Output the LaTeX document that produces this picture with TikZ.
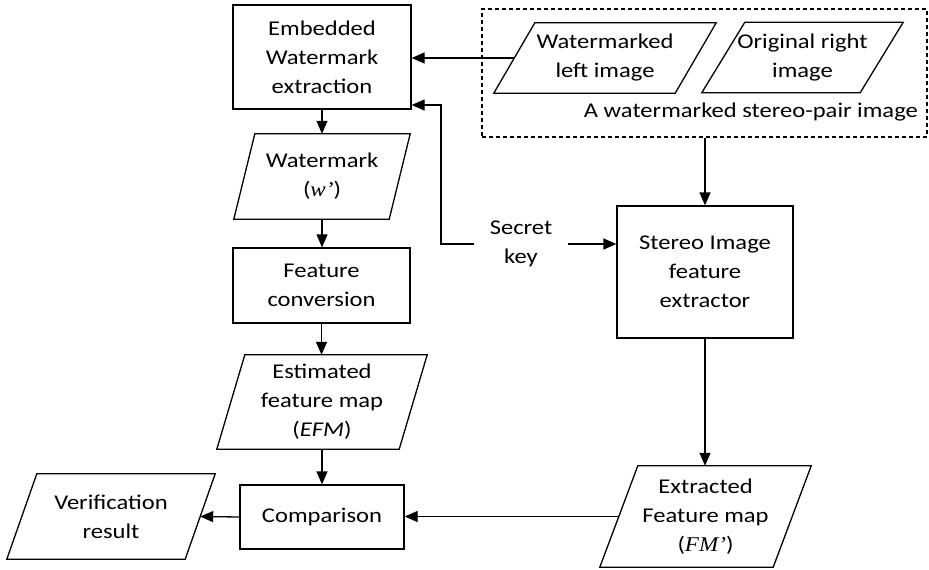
\documentclass[tikz,border=0pt]{standalone}
\usepackage{fontspec}
\setmainfont{Carlito}[FakeStretch=1.17]
\newfontfamily\serifit{Liberation Serif}[FakeStretch=1.1]
\usetikzlibrary{arrows.meta}
\newcommand\drawpara[2]{\draw[ln] ([xshift=#2]#1.north west) -- (#1.north east) -- ([xshift=-#2]#1.south east) -- (#1.south west) -- cycle;}
\begin{document}
\begin{tikzpicture}[x=1pt,y=-1pt,
  every node/.style={font=\fontsize{21}{29}\selectfont, align=center, inner sep=0pt, text=black},
  ln/.style={draw=black, line width=1.3pt},
  box/.style={ln},
  arr/.style={ln, -{Triangle[length=13pt,width=11pt]}},
  grp/.style={draw=black, line width=1.2pt, dash pattern=on 4pt off 3pt}]
\useasboundingbox (0,0) rectangle (929,570);
% left column
\node[box, minimum width=178pt, minimum height=104pt] (emb) at (322,57) {Embedded\\Watermark\\extraction};
\node[minimum width=176pt, minimum height=85pt] (wm) at (322,176.5) {Watermark\\({\serifit\itshape w’})};
\node[box, minimum width=177pt, minimum height=75pt] (fc) at (321.5,285.5) {Feature\\conversion};
\node[minimum width=210pt, minimum height=94pt] (efm) at (322,402) {Estimated\\feature map\\(\textit{EFM})};
\node[box, minimum width=164pt, minimum height=64pt] (cmp) at (322,517) {Comparison};
\node[minimum width=208pt, minimum height=85pt] (ver) at (111,516.5) {Verification\\result};
% right side
\node[grp, minimum width=445pt, minimum height=128pt] (grp) at (704.5,73) {};
\node[minimum width=222pt, minimum height=70pt] (li) at (605,58) {Watermarked\\left image};
\node[minimum width=201pt, minimum height=70pt] (ori) at (802.5,57.5) {Original right\\image};
\node[anchor=base east] (lbl) at (918,117) {A watermarked stereo-pair image};
\node[minimum width=93pt] (sk) at (521,244) {Secret\\key};
\node[box, minimum width=176pt, minimum height=132pt] (st) at (705,272) {Stereo Image\\feature\\extractor};
\node[minimum width=211pt, minimum height=101pt] (fm) at (705.5,516.5) {Extracted\\Feature map\\({\serifit\itshape FM’})};
% parallelograms
\drawpara{wm}{21}
\drawpara{efm}{28}
\drawpara{ver}{30}
\drawpara{li}{41}
\drawpara{ori}{43}
\drawpara{fm}{38}
% edge points of slanted sides
\coordinate (liw) at ([xshift=20.5pt]li.west);
\coordinate (fmw) at ([xshift=19pt]fm.west);
\coordinate (vere) at ([xshift=-15pt]ver.east);
\coordinate (kc) at (441,105);
% connectors
\draw[arr] (emb.south) -- (emb.south |- wm.north);
\draw[arr] (wm.south) -- (wm.south |- fc.north);
\draw[arr] (fc.south) -- (fc.south |- efm.north);
\draw[arr] (efm.south) -- (efm.south |- cmp.north);
\draw[arr] (liw) -- (liw -| emb.east);
\draw[arr] (sk.west) -| (kc) -- (kc -| emb.east);
\draw[arr] (sk.east) -- (sk.east -| st.west);
\draw[arr] (grp.south -| st.north) -- (st.north);
\draw[arr] (st.south) -- (st.south |- fm.north);
\draw[arr] (fmw) -- (fmw -| cmp.east);
\draw[arr] (cmp.west) -- (vere);
\end{tikzpicture}
\end{document}
